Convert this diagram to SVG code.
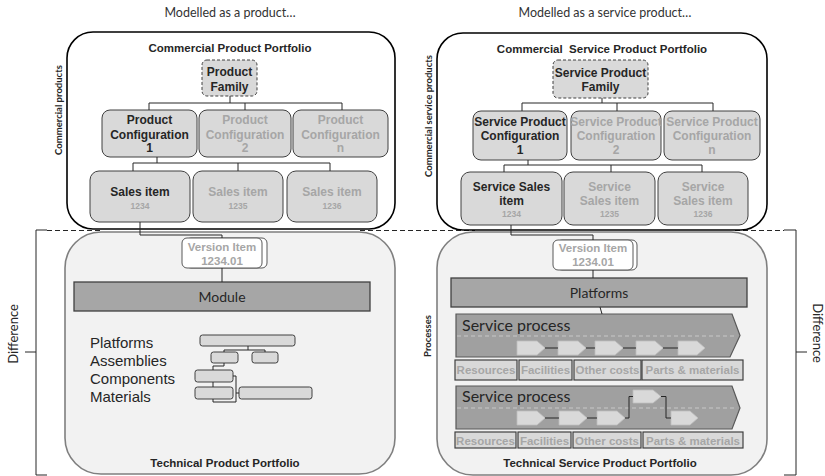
<svg xmlns="http://www.w3.org/2000/svg" width="825" height="476" viewBox="0 0 825 476">
<style>
.cal{font-family:Lato,"Open Sans","DejaVu Sans",sans-serif;}
.ar{font-family:"Liberation Sans",Arial,sans-serif;}
.title{font-size:12.5px;fill:#333;}
.port{font-size:11.5px;font-weight:bold;fill:#262626;}
.bx{fill:#d9d9d9;stroke:#404040;stroke-width:1;}
.fam{fill:#d9d9d9;stroke:#404040;stroke-width:1;stroke-dasharray:3,2;}
.t1{font-size:12px;font-weight:bold;fill:#262626;}
.t2{font-size:12px;font-weight:bold;fill:#a6a6a6;}
.num1{font-size:8.5px;font-weight:bold;fill:#a6a6a6;}
.ln{fill:none;stroke:#262626;stroke-width:1;}
.comm{fill:#fff;stroke:#000;stroke-width:1.6;}
.tech{fill:#f2f2f2;stroke:#7f7f7f;stroke-width:1.6;}
.dash{fill:none;stroke:#262626;stroke-width:1.2;stroke-dasharray:5,3;}
.ver{fill:#fff;stroke:#595959;stroke-width:1;}
.vt{font-size:11.5px;font-weight:bold;fill:#a6a6a6;}
.dark{fill:#a6a6a6;stroke:#404040;stroke-width:1.3;}
.rot{font-size:9.5px;font-weight:bold;fill:#262626;}
.lvl{font-size:15px;fill:#262626;}
.mini{fill:#d9d9d9;stroke:#404040;stroke-width:1;}
.proc{fill:#a0a0a0;stroke:#595959;stroke-width:1.2;}
.pt{font-size:16px;fill:#262626;}
.pdash{fill:none;stroke:#c8c8c8;stroke-width:1;stroke-dasharray:4,3;}
.chev{fill:#d9d9d9;stroke:#bfbfbf;stroke-width:0.8;}
.res{fill:#d9d9d9;stroke:#404040;stroke-width:1.2;}
.rt{font-size:11.5px;font-weight:bold;fill:#a6a6a6;}
.brk{fill:none;stroke:#262626;stroke-width:1;}
</style>

<!-- titles -->
<text class="cal title" x="230" y="17" text-anchor="middle">Modelled as a product…</text>
<text class="cal title" x="605" y="17" text-anchor="middle">Modelled as a service product…</text>

<!-- dashed separator -->
<g id="separator">
<path class="dash" d="M47,230.5 H100 M360,230.5 H475 M735,230.5 H784"/>
</g>

<!-- difference brackets -->
<g id="difference-left">
<path class="brk" d="M47,230 H36 V475 H47 M36,352 H25"/>
<text class="cal" font-size="13" fill="#262626" transform="translate(18,334) rotate(-90)" text-anchor="middle">Difference</text>
</g>
<g id="difference-right">
<path class="brk" d="M784,230 H796 V475 H784 M796,352 H807"/>
<text class="cal" font-size="13" fill="#262626" transform="translate(813,333) rotate(90)" text-anchor="middle">Difference</text>
</g>

<!-- technical portfolios (containers) -->
<g id="tech-product-portfolio">
<rect class="tech" x="65" y="232" width="330" height="242" rx="36"/>
<text class="ar port" x="225" y="466.5" text-anchor="middle">Technical Product Portfolio</text>
</g>
<g id="tech-service-portfolio">
<rect class="tech" x="437" y="232" width="330" height="243" rx="36"/>
<text class="ar port" x="600" y="466.5" text-anchor="middle">Technical Service Product Portfolio</text>
</g>

<!-- commercial portfolios (containers) -->
<g id="comm-product-portfolio">
<rect class="comm" x="67" y="32" width="328" height="197" rx="26"/>
<text class="ar port" x="230" y="52" text-anchor="middle">Commercial Product Portfolio</text>
<text class="cal rot" transform="translate(61.5,110) rotate(-90)" text-anchor="middle">Commercial products</text>
</g>
<g id="comm-service-portfolio">
<rect class="comm" x="437" y="33" width="330" height="197" rx="26"/>
<text class="ar port" x="602" y="53" text-anchor="middle" xml:space="preserve">Commercial  Service Product Portfolio</text>
<text class="cal rot" transform="translate(431.5,116) rotate(-90)" text-anchor="middle">Commercial service products</text>
</g>

<!-- LEFT commercial nodes -->
<g id="product-family">
<rect class="fam" x="202" y="60" width="55" height="36" rx="5"/>
<text class="ar t1" x="229.5" y="76" text-anchor="middle">Product</text>
<text class="ar t1" x="229.5" y="91" text-anchor="middle">Family</text>
</g>
<g id="product-config-1">
<rect class="bx" x="102" y="110" width="95" height="47" rx="8"/>
<text class="ar t1" x="149.5" y="124" text-anchor="middle">Product</text>
<text class="ar t1" x="149.5" y="138.5" text-anchor="middle">Configuration</text>
<text class="ar t1" x="149.5" y="152" text-anchor="middle">1</text>
</g>
<g id="product-config-2">
<rect class="bx" x="199" y="110" width="92" height="47" rx="8"/>
<text class="ar t2" x="245" y="124" text-anchor="middle">Product</text>
<text class="ar t2" x="245" y="138.5" text-anchor="middle">Configuration</text>
<text class="ar t2" x="245" y="152" text-anchor="middle">2</text>
</g>
<g id="product-config-n">
<rect class="bx" x="293" y="110" width="95" height="47" rx="8"/>
<text class="ar t2" x="340.5" y="124" text-anchor="middle">Product</text>
<text class="ar t2" x="340.5" y="138.5" text-anchor="middle">Configuration</text>
<text class="ar t2" x="340.5" y="152" text-anchor="middle">n</text>
</g>
<g id="sales-item-1234">
<rect class="bx" x="90" y="171" width="100" height="51" rx="9"/>
<text class="ar t1" x="140" y="196" text-anchor="middle">Sales item</text>
<text class="ar num1" x="140" y="208.5" text-anchor="middle">1234</text>
</g>
<g id="sales-item-1235">
<rect class="bx" x="193" y="171" width="90" height="51" rx="9"/>
<text class="ar t2" x="238" y="196" text-anchor="middle">Sales item</text>
<text class="ar num1" x="238" y="208.5" text-anchor="middle">1235</text>
</g>
<g id="sales-item-1236">
<rect class="bx" x="287" y="171" width="90" height="51" rx="9"/>
<text class="ar t2" x="332" y="196" text-anchor="middle">Sales item</text>
<text class="ar num1" x="332" y="208.5" text-anchor="middle">1236</text>
</g>

<!-- LEFT technical nodes -->
<g id="version-item-left">
<rect class="ver" x="186" y="238" width="81" height="30" rx="5"/>
<rect class="ver" x="182" y="238" width="80" height="30" rx="5"/>
<text class="ar vt" x="222" y="251" text-anchor="middle">Version Item</text>
<text class="ar vt" x="222" y="265" text-anchor="middle">1234.01</text>
</g>
<g id="module">
<rect class="dark" x="74" y="282" width="296" height="29"/>
<text class="cal" font-size="14" fill="#262626" x="222" y="301.5" text-anchor="middle">Module</text>
</g>
<g id="levels">
<text class="ar lvl" x="90" y="348">Platforms</text>
<text class="ar lvl" x="90" y="366">Assemblies</text>
<text class="ar lvl" x="90" y="384">Components</text>
<text class="ar lvl" x="90" y="402">Materials</text>
</g>
<g id="mini-tree">
<rect class="mini" x="200" y="335" width="95" height="11" rx="2.5"/>
<rect class="mini" x="211" y="352" width="27" height="11" rx="2.5"/>
<rect class="mini" x="252" y="352" width="26" height="11" rx="2.5"/>
<rect class="mini" x="195" y="370" width="38" height="12" rx="2.5"/>
<rect class="mini" x="195" y="387" width="38" height="12" rx="2.5"/>
<rect class="mini" x="239" y="387" width="73" height="12" rx="2.5"/>
</g>

<!-- RIGHT commercial nodes -->
<g id="service-product-family">
<rect class="fam" x="553" y="60" width="95" height="38" rx="5"/>
<text class="ar t1" x="600.5" y="77" text-anchor="middle">Service Product</text>
<text class="ar t1" x="600.5" y="91" text-anchor="middle">Family</text>
</g>
<g id="service-config-1">
<rect class="bx" x="473" y="111" width="94" height="49" rx="8"/>
<text class="ar t1" x="520" y="126" text-anchor="middle">Service Product</text>
<text class="ar t1" x="520" y="140" text-anchor="middle">Configuration</text>
<text class="ar t1" x="520" y="154" text-anchor="middle">1</text>
</g>
<g id="service-config-2">
<rect class="bx" x="571" y="111" width="90" height="49" rx="8"/>
<text class="ar t2" x="616" y="126" text-anchor="middle">Service Product</text>
<text class="ar t2" x="616" y="140" text-anchor="middle">Configuration</text>
<text class="ar t2" x="616" y="154" text-anchor="middle">2</text>
</g>
<g id="service-config-n">
<rect class="bx" x="664" y="111" width="96" height="49" rx="8"/>
<text class="ar t2" x="712" y="126" text-anchor="middle">Service Product</text>
<text class="ar t2" x="712" y="140" text-anchor="middle">Configuration</text>
<text class="ar t2" x="712" y="154" text-anchor="middle">n</text>
</g>
<g id="service-sales-item-1234">
<rect class="bx" x="461" y="172" width="101" height="53" rx="9"/>
<text class="ar t1" x="511.5" y="190.5" text-anchor="middle">Service Sales</text>
<text class="ar t1" x="511.5" y="204.5" text-anchor="middle">item</text>
<text class="ar num1" x="511.5" y="217" text-anchor="middle">1234</text>
</g>
<g id="service-sales-item-1235">
<rect class="bx" x="564" y="172" width="91" height="53" rx="9"/>
<text class="ar t2" x="609.5" y="190.5" text-anchor="middle">Service</text>
<text class="ar t2" x="609.5" y="204.5" text-anchor="middle">Sales item</text>
<text class="ar num1" x="609.5" y="217" text-anchor="middle">1235</text>
</g>
<g id="service-sales-item-1236">
<rect class="bx" x="658" y="172" width="90" height="53" rx="9"/>
<text class="ar t2" x="703" y="190.5" text-anchor="middle">Service</text>
<text class="ar t2" x="703" y="204.5" text-anchor="middle">Sales item</text>
<text class="ar num1" x="703" y="217" text-anchor="middle">1236</text>
</g>

<!-- RIGHT technical nodes -->
<text class="cal rot" transform="translate(430.5,336) rotate(-90)" text-anchor="middle">Processes</text>
<g id="version-item-right">
<rect class="ver" x="557" y="240" width="80" height="30" rx="5"/>
<rect class="ver" x="553" y="240" width="80" height="30" rx="5"/>
<text class="ar vt" x="593" y="252" text-anchor="middle">Version Item</text>
<text class="ar vt" x="593" y="266" text-anchor="middle">1234.01</text>
</g>
<g id="platforms">
<rect class="dark" x="451" y="278" width="296" height="29"/>
<text class="cal" font-size="14" fill="#262626" x="599" y="298" text-anchor="middle">Platforms</text>
</g>

<g id="service-process-1">
<polygon class="proc" points="456,314 732,314 740,335.5 730,357 456,357"/>
<line class="pdash" x1="457" y1="336" x2="737" y2="336"/>
<text class="cal pt" x="462" y="331">Service process</text>
<polygon class="chev" points="517,341 537,341 545,348 537,355 517,355"/>
<polygon class="chev" points="558,341 578,341 586,348 578,355 558,355"/>
<polygon class="chev" points="595,341 615,341 623,348 615,355 595,355"/>
<polygon class="chev" points="636,341 655,341 663,348 655,355 636,355"/>
<polygon class="chev" points="678,341 697,341 705,348 697,355 678,355"/>
</g>
<g id="resources-1">
<rect class="res" x="455" y="360" width="62" height="20"/>
<rect class="res" x="519" y="360" width="53" height="20"/>
<rect class="res" x="574" y="360" width="67" height="20"/>
<rect class="res" x="642" y="360" width="101" height="20"/>
<text class="ar rt" x="486" y="374" text-anchor="middle">Resources</text>
<text class="ar rt" x="545.5" y="374" text-anchor="middle">Facilities</text>
<text class="ar rt" x="607.5" y="374" text-anchor="middle">Other costs</text>
<text class="ar rt" x="692.5" y="374" text-anchor="middle">Parts &amp; materials</text>
</g>

<g id="service-process-2">
<polygon class="proc" points="456,386 732,386 740,408 732,429 456,429"/>
<line class="pdash" x1="457" y1="408" x2="737" y2="408"/>
<text class="cal pt" x="462" y="402">Service process</text>
<polygon class="chev" points="517,411 537,411 545,418 537,425 517,425"/>
<polygon class="chev" points="559,411 579,411 587,418 579,425 559,425"/>
<polygon class="chev" points="597,411 617,411 625,418 617,425 597,425"/>
<polygon class="chev" points="633,390 653,390 661,396.5 653,403 633,403"/>
<polygon class="chev" points="671,411 690,411 698,418 690,425 671,425"/>
</g>
<g id="resources-2">
<rect class="res" x="455" y="432" width="61" height="16"/>
<rect class="res" x="518" y="432" width="53" height="16"/>
<rect class="res" x="573" y="432" width="68" height="16"/>
<rect class="res" x="643" y="432" width="100" height="16"/>
<text class="ar rt" x="485.5" y="444.5" text-anchor="middle">Resources</text>
<text class="ar rt" x="544.5" y="444.5" text-anchor="middle">Facilities</text>
<text class="ar rt" x="607" y="444.5" text-anchor="middle">Other costs</text>
<text class="ar rt" x="693" y="444.5" text-anchor="middle">Parts &amp; materials</text>
</g>

<!-- connectors -->
<g id="connectors">
<path class="ln" d="M230,96 V103 M149,103 H342 M149,103 V110 M245,103 V110 M342,103 V110"/>
<path class="ln" d="M157,157 V163 M133,163 H330 M133,163 V171 M238,163 V171 M330,163 V171"/>
<path class="ln" d="M140,222 V235 H222 V238"/>
<path class="ln" stroke="#595959" d="M222,268 V282"/>
<path class="ln" d="M602,98 V103 M522,103 H713 M522,103 V111 M617,103 V111 M713,103 V111"/>
<path class="ln" d="M528,160 V165 M504,165 H702 M504,165 V172 M611,165 V172 M702,165 V172"/>
<path class="ln" d="M511,225 V235 H593 V240"/>
<path class="ln" stroke="#595959" d="M593,270 V278"/>
<path class="ln" d="M600,307 L602,314"/>
<path class="ln" stroke="#595959" d="M248,346 V350 M224,350 H265 M224,350 V352 M265,350 V352"/>
<path class="ln" stroke="#595959" d="M224,363 V366 H213 V370 M213,382 V387 M213,399 V402 H236 M233,376 H236 V402 M236,393 H239"/>
<path class="ln" d="M545,348 H558 M586,348 H595 M623,348 H636 M663,348 H678"/>
<path class="ln" d="M545,418 H559 M587,418 H597 M625,418 H629 V396.5 H633 M661,396.5 H666 V418 H671"/>
</g>
</svg>
